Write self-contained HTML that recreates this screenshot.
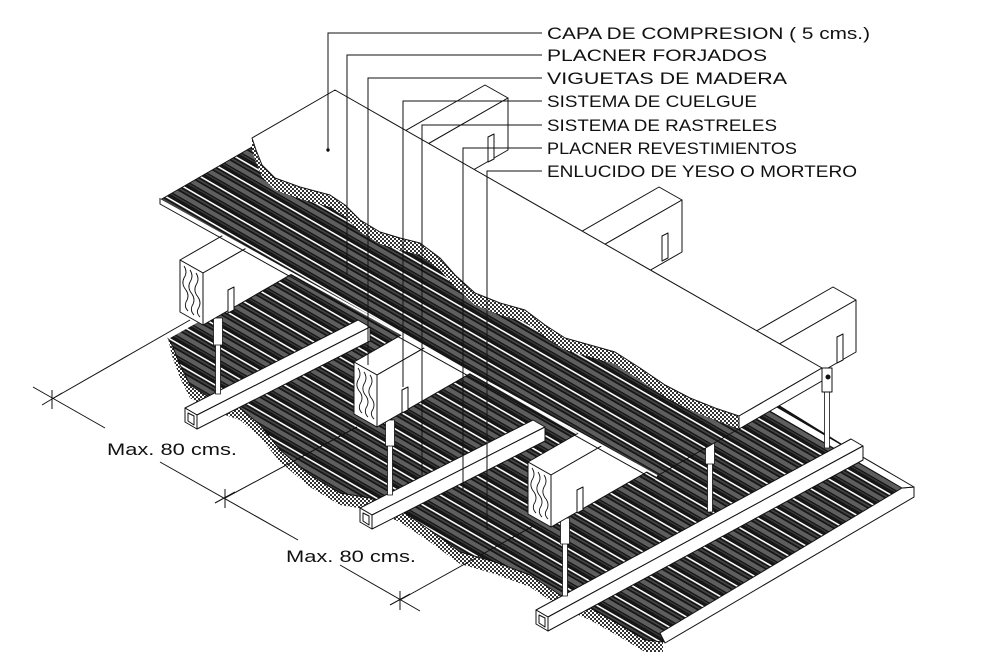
<!DOCTYPE html>
<html><head><meta charset="utf-8"><style>
html,body{margin:0;padding:0;background:#fff;}
svg{display:block;}
text{font-family:"Liberation Sans",sans-serif;fill:#111;}
</style></head><body>
<svg width="1005" height="652" viewBox="0 0 1005 652" xmlns="http://www.w3.org/2000/svg">
<defs>
<pattern id="corr" patternUnits="userSpaceOnUse" width="40" height="20" patternTransform="matrix(1,0.577,0,1,0,0)">
<rect width="40" height="20" fill="#161616"/>
<rect y="4" width="40" height="2" fill="#444"/>
<rect y="8" width="40" height="5" fill="#5e5e5e"/>
<rect y="14.5" width="40" height="1.5" fill="#3a3a3a"/>
<rect y="0" width="40" height="1.8" fill="#fff"/>
</pattern>
<pattern id="chk" patternUnits="userSpaceOnUse" width="4" height="4">
<rect width="4" height="4" fill="#fff"/>
<rect width="2" height="2" fill="#333"/>
<rect x="2" y="2" width="2" height="2" fill="#333"/>
</pattern>
</defs>
<rect width="1005" height="652" fill="#fff"/>
<g stroke="#111" stroke-width="1" stroke-linejoin="round">
<polygon fill="url(#chk)" stroke="none" points="168,338 172,356 180,378 190,398 210,410 240,420 260,437 280,462 310,487 340,505 370,510 400,522 430,542 460,564 495,574 530,587 560,607 590,620 620,637 645,652 663,652 663,642 645,640 620,625 590,608 560,595 530,575 495,562 460,552 430,530 400,510 370,498 340,493 310,475 280,450 260,425 240,408 210,398 190,385 180,365 172,345"/>
<polygon fill="url(#corr)" stroke="#111" points="168,338 430,190 914,489 914,497 663,642 645,640 620,625 590,608 560,595 530,575 495,562 460,552 430,530 400,510 370,498 340,493 310,475 280,450 260,425 240,408 210,398 190,385 180,365 172,345"/>
<polygon fill="#fff" points="914,487 914,497 665,643 660,633 902,488"/>
<polygon fill="#fff" points="914,487 775,406 768,410 902,488"/>
<line x1="168" y1="338" x2="420" y2="196" stroke="#fff" stroke-width="2"/>
<g fill="#fff">
<polygon points="185,408 197,415 370,327 358,320"/><polygon points="197,415 370,327 370,341 197,429"/><polygon points="185,408 197,415 197,429 185,422"/><polygon points="188,413 194,416 194,425 188,421"/>
<polygon points="360,508 372,515 545,427 533,420"/><polygon points="372,515 545,427 545,441 372,529"/><polygon points="360,508 372,515 372,529 360,522"/><polygon points="363,513 369,516 369,525 363,521"/>
<polygon points="536,610 548,617 863,446 851,439"/><polygon points="548,617 863,446 863,460 548,631"/><polygon points="536,610 548,617 548,631 536,624"/><polygon points="539,615 545,618 545,627 539,623"/>
</g>
<g fill="#fff" stroke-width="0.8">
<rect x="215.5" y="318" width="5" height="76"/><rect x="213.5" y="318" width="9" height="27"/>
<rect x="387.5" y="420" width="5" height="75"/><rect x="385.5" y="420" width="9" height="26"/>
<rect x="562.5" y="520" width="5" height="76"/><rect x="560.5" y="518" width="9" height="26"/>
<rect x="707.5" y="440" width="5" height="72"/><rect x="705.5" y="440" width="9" height="24"/>
<rect x="824.5" y="380" width="5" height="68"/>
</g>
<g fill="#fff">
<polygon points="180,260 203,273 508,98 485,85"/><polygon points="203,273 508,98 508,150 203,325"/><polygon points="180,260 203,273 203,325 180,312"/>
<polygon points="354,362 377,375 682,200 659,187"/><polygon points="377,375 682,200 682,252 377,427"/><polygon points="354,362 377,375 377,427 354,414"/>
<polygon points="528,462 551,475 856,300 833,287"/><polygon points="551,475 856,300 856,352 551,527"/><polygon points="528,462 551,475 551,527 528,514"/>
</g>
<g fill="none" stroke-width="0.9">
<path d="M184,266 q4,6 0,12 q-3,6 2,12 q4,6 0,12 q-2,5 2,9"/><path d="M190,270 q4,6 0,12 q-3,6 2,12 q4,6 0,12 q-2,5 2,9"/><path d="M196,273 q4,6 0,12 q-3,6 2,12 q4,6 0,12 q-2,4 2,8"/>
<path d="M358,368 q4,6 0,12 q-3,6 2,12 q4,6 0,12 q-2,5 2,9"/><path d="M364,372 q4,6 0,12 q-3,6 2,12 q4,6 0,12 q-2,5 2,9"/><path d="M370,375 q4,6 0,12 q-3,6 2,12 q4,6 0,12 q-2,4 2,8"/>
<path d="M532,468 q4,6 0,12 q-3,6 2,12 q4,6 0,12 q-2,5 2,9"/><path d="M538,472 q4,6 0,12 q-3,6 2,12 q4,6 0,12 q-2,5 2,9"/><path d="M544,475 q4,6 0,12 q-3,6 2,12 q4,6 0,12 q-2,4 2,8"/>
</g>
<g fill="#fff">
<polygon points="228,290 234,287 234,310 228,313"/>
<polygon points="402,390 408,387 408,410 402,413"/>
<polygon points="577,490 583,487 583,510 577,513"/>
<polygon points="488,137 494,134 494,159 488,162"/>
<polygon points="662,236 668,233 668,258 662,261"/>
<polygon points="837,337 843,334 843,360 837,363"/>
</g>
<polygon fill="url(#corr)" points="160,200 252,147 742,427 657,476"/>
<line x1="160" y1="200" x2="657" y2="476" stroke="#fff" stroke-width="2"/>
<polyline fill="none" points="160,198 160,204 655,480"/>
<polygon fill="url(#chk)" stroke="none" points="252,138 252,150 256,162 262,177 275,190 300,199 330,207 345,217 360,232 380,244 400,250 420,255 440,270 455,287 475,305 500,315 525,322 545,337 565,350 590,357 615,364 640,380 665,397 690,410 715,420 739,429 739,416"/>
<polygon fill="#fff" points="335,90 822,368 739,416 715,408 690,398 665,385 640,368 615,352 590,345 565,338 545,325 525,310 500,303 475,293 455,275 440,258 420,243 400,238 380,232 360,220 345,205 330,195 300,187 275,178 262,165 256,150 252,138"/>
<polygon fill="#fff" points="739,416 822,368 822,381 739,429"/>
<rect x="822" y="368" width="10" height="24" fill="#fff"/>
<circle cx="828" cy="377" r="2" fill="#111"/>
<circle cx="328" cy="150" r="1.2" fill="#111"/>
</g>
<g stroke="#111" stroke-width="1" fill="none">
<polyline points="542,33 328,33 328,150"/>
<polyline points="542,55 347,55 347,275"/>
<polyline points="542,78 368,78 368,365"/>
<polyline points="542,101 403,101 403,387"/>
<polyline points="542,125 422,125 422,477"/>
<polyline points="542,148 463,148 463,490"/>
<polyline points="542,171 487,171 487,530"/>
<line x1="52" y1="399" x2="190" y2="320"/><line x1="33" y1="387" x2="105" y2="428"/><line x1="52" y1="390" x2="52" y2="409"/><line x1="42" y1="405" x2="62" y2="393"/>
<line x1="225" y1="498" x2="357" y2="427"/><line x1="160" y1="462" x2="298" y2="540"/><line x1="225" y1="489" x2="225" y2="508"/><line x1="215" y1="503" x2="235" y2="492"/>
<line x1="400" y1="600" x2="535" y2="525"/><line x1="340" y1="565" x2="420" y2="611"/><line x1="400" y1="591" x2="400" y2="610"/><line x1="390" y1="605" x2="410" y2="594"/>
</g>
<g font-size="16.5">
<text x="547" y="39" textLength="323" lengthAdjust="spacingAndGlyphs">CAPA DE COMPRESION ( 5 cms.)</text>
<text x="547" y="61" textLength="220" lengthAdjust="spacingAndGlyphs">PLACNER FORJADOS</text>
<text x="547" y="84" textLength="240" lengthAdjust="spacingAndGlyphs">VIGUETAS DE MADERA</text>
<text x="547" y="107" textLength="210" lengthAdjust="spacingAndGlyphs">SISTEMA DE CUELGUE</text>
<text x="547" y="131" textLength="230" lengthAdjust="spacingAndGlyphs">SISTEMA DE RASTRELES</text>
<text x="547" y="154" textLength="250" lengthAdjust="spacingAndGlyphs">PLACNER REVESTIMIENTOS</text>
<text x="547" y="177" textLength="310" lengthAdjust="spacingAndGlyphs">ENLUCIDO DE YESO O MORTERO</text>
<text x="107" y="455" textLength="130" lengthAdjust="spacingAndGlyphs">Max. 80 cms.</text>
<text x="286" y="562" textLength="130" lengthAdjust="spacingAndGlyphs">Max. 80 cms.</text>
</g>
</svg>
</body></html>
